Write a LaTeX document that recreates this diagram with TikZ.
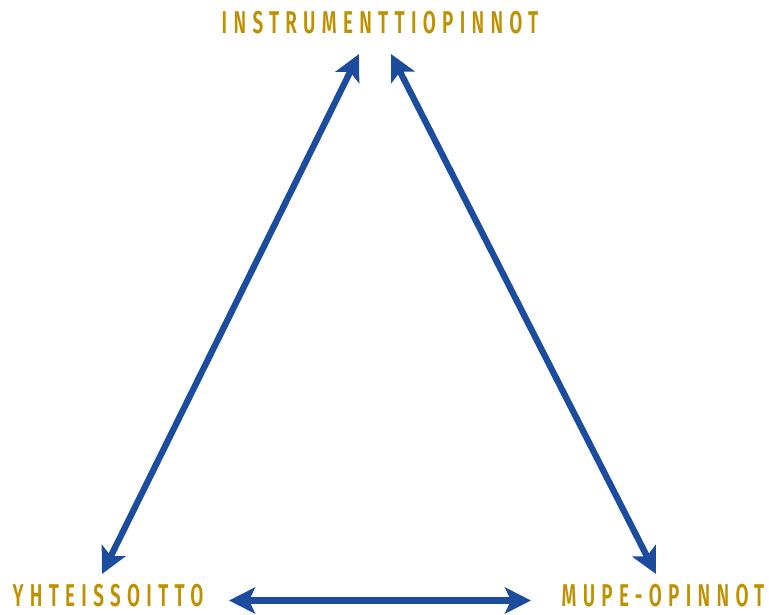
\documentclass[tikz,border=0pt]{standalone}
\usepackage{fontspec}
\newfontfamily\labelfont[FakeStretch=0.6,LetterSpace=20]{Fira Sans SemiBold}
\usetikzlibrary{arrows.meta}
\definecolor{gold}{HTML}{BF9000}
\definecolor{arrowblue}{HTML}{1C4C9E}
\tikzset{
  lbl/.style={text=gold,font=\labelfont\fontsize{31.5}{31.5}\selectfont,inner sep=0pt,anchor=base},
  dbl/.style={draw=arrowblue,line width=6.3pt,{Stealth[length=26pt,width=26pt,inset=6pt]}-{Stealth[length=26pt,width=26pt,inset=6pt]}}
}
\begin{document}
\begin{tikzpicture}[x=1pt,y=-1pt]
\useasboundingbox (0,0) rectangle (769,614);
\node[lbl] (top) at (380,33) {INSTRUMENTTIOPINNOT};
\node[lbl] (left) at (108,606) {YHTEISSOITTO};
\node[lbl] (right) at (663,606) {MUPE-OPINNOT};
\coordinate (t1) at (359,54);
\coordinate (t2) at (391,54);
\coordinate (bl) at (102,574);
\coordinate (br) at (656,574);
\coordinate (b1) at (229,600.5);
\coordinate (b2) at (531,600.5);
\draw[dbl] (t1) -- (bl);
\draw[dbl] (t2) -- (br);
\draw[dbl] (b1) -- (b2);
\end{tikzpicture}
\end{document}
